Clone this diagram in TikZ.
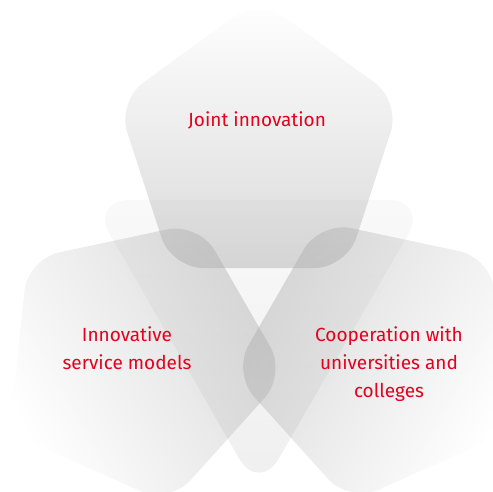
\documentclass[tikz,border=0pt]{standalone}
\usepackage{fontspec}
\setmainfont{Fira Sans}
\usetikzlibrary{calc,fadings}
\definecolor{pentgray}{RGB}{168,168,168}
\definecolor{labelred}{RGB}{228,0,30}
\definecolor{triTop}{RGB}{249,249,249}
\definecolor{triBot}{RGB}{239,239,239}
\tikzfading[name=pentfade, top color=transparent!100, bottom color=transparent!57]
\tikzset{
  pentshape/.style={fill=pentgray, rounded corners=32pt},
  trishape/.style={top color=triTop, bottom color=triBot, draw=none, rounded corners=40pt},
  lbl/.style={text=labelred, font=\fontsize{19}{28}\selectfont, align=center, anchor=base}
}
\begin{document}
\begin{tikzpicture}[x=1pt,y=1pt]
\useasboundingbox (0,0) rectangle (493,492);
\clip (0,0) rectangle (493,492);
\coordinate (C) at (259,204);
\coordinate (Pt) at (259,344.5);
\coordinate (Pl) at ($(C)+(210:140.5)$);
\coordinate (Pr) at ($(C)+(-30:140.5)$);
\foreach \n/\c/\r in {T/Pt/0, L/Pl/120, R/Pr/-120} {
  \coordinate (\n m) at ($(\c)+(54+\r:120.5)$);
  \foreach \k/\a in {1/90,2/162,3/234,4/306,5/18} {
    \coordinate (\n\k) at ($(\c)+(\a+\r:149)$);
  }
}
% faint background triangle
\coordinate (TL) at (90,292);
\coordinate (TR) at (428,292);
\coordinate (TB) at (259,-1);
\coordinate (TM) at (259,292);
\shade[trishape] (TM) -- (TR) -- (TB) -- (TL) -- cycle;
% pentagons
\fill[pentshape, path fading=pentfade] (Tm) -- (T1) -- (T2) -- (T3) -- (T4) -- (T5) -- cycle;
\fill[pentshape, path fading=pentfade, fading angle=120] (Lm) -- (L1) -- (L2) -- (L3) -- (L4) -- (L5) -- cycle;
\fill[pentshape, path fading=pentfade, fading angle=-120] (Rm) -- (R1) -- (R2) -- (R3) -- (R4) -- (R5) -- cycle;
% labels
\node[lbl] (joint) at (257,365) {Joint innovation};
\node[lbl] (service) at (127,122) {Innovative\\service models};
\node[lbl] (coop) at (389,94) {Cooperation with\\universities and\\colleges};
\end{tikzpicture}
\end{document}
